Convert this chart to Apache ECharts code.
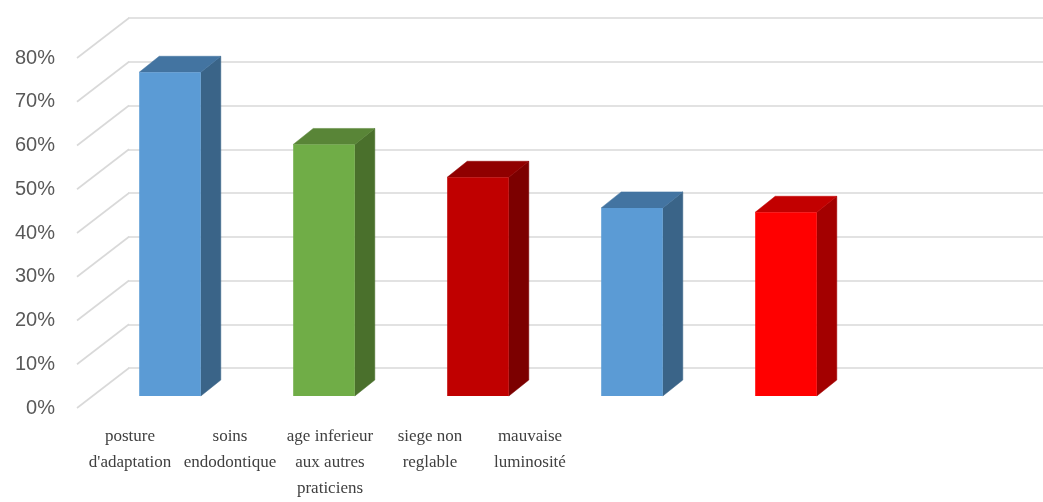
<!DOCTYPE html>
<html>
<head>
<meta charset="utf-8">
<script src="https://cdn.jsdelivr.net/npm/echarts@6/dist/echarts.min.js"></script>
<style>
html,body{margin:0;padding:0;background:#fff;}
#chart{width:1043px;height:502px;}
</style>
</head>
<body>
<div id="chart"></div>
<script>
// ---- data ----
const categories = ["posture\nd'adaptation", "soins\nendodontique", "age inferieur\naux autres\npraticiens", "siege non\nreglable", "mauvaise\nluminosité"];
const values = [0.74, 0.575, 0.50, 0.43, 0.42];
const yTicks = [0, 0.1, 0.2, 0.3, 0.4, 0.5, 0.6, 0.7, 0.8];

// ---- styles ----
const faceColors = [
  {front: '#5B9BD5', top: '#4374A1', side: '#3A6488'},
  {front: '#70AD47', top: '#598537', side: '#4A702C'},
  {front: '#C00000', top: '#900000', side: '#7C0000'},
  {front: '#5B9BD5', top: '#4374A1', side: '#3A6488'},
  {front: '#FF0000', top: '#C20000', side: '#A30000'}
];
const DEPTH_X = 20, DEPTH_Y = 16;     // bar depth projection
const DIAG_X = 52, DIAG_Y = 40;       // floor/side wall projection
const gridColor = '#D9D9D9';

const chart = echarts.init(document.getElementById('chart'));

const slotData = categories.map((c, i) => [i, values[i]]);

chart.setOption({
  backgroundColor: '#fff',
  animation: false,
  grid: [
    {left: 128, right: 0, top: 18, bottom: 134},   // back wall
    {left: 77, width: 60, top: 58, bottom: 94},    // side wall / y labels (front plane)
    {left: 93, right: 26, top: 46, bottom: 106},   // bars (bar front plane)
    {left: 80, width: 500, top: 300, bottom: 82}   // category labels
  ],
  xAxis: [
    {gridIndex: 0, type: 'value', show: false, min: 0, max: 1},
    {gridIndex: 1, type: 'value', show: false, min: 0, max: 1},
    {gridIndex: 2, type: 'category', show: false, data: categories.concat([''])},
    {gridIndex: 3, type: 'category', data: categories,
     axisLine: {show: false}, axisTick: {show: false},
     axisLabel: {interval: 0, margin: 5, fontFamily: 'Liberation Serif', fontSize: 17, lineHeight: 26, color: '#404040'}}
  ],
  yAxis: [
    {gridIndex: 0, type: 'value', min: 0, max: 0.8, interval: 0.1,
     axisLine: {show: false}, axisTick: {show: false}, axisLabel: {show: false},
     splitLine: {show: true, lineStyle: {color: gridColor, width: 1.6}}},
    {gridIndex: 1, type: 'value', min: 0, max: 0.8, interval: 0.1,
     axisLine: {show: false}, axisTick: {show: false}, splitLine: {show: false},
     axisLabel: {margin: 22, fontFamily: 'Liberation Sans', fontSize: 20, color: '#595959',
       formatter: v => Math.round(v * 100) + '%'}},
    {gridIndex: 2, type: 'value', min: 0, max: 0.8, show: false, splitLine: {show: false}},
    {gridIndex: 3, type: 'value', show: false, splitLine: {show: false}}
  ],
  series: [
    {
      type: 'custom', xAxisIndex: 1, yAxisIndex: 1, silent: true,
      data: yTicks.map(v => [0, v]),
      renderItem: function (params, api) {
        const p = api.coord([0, api.value(1)]);
        return {type: 'line', shape: {x1: p[0], y1: p[1], x2: p[0] + DIAG_X, y2: p[1] - DIAG_Y},
          style: {stroke: gridColor, lineWidth: 1.6}};
      }
    },
    {
      type: 'custom', xAxisIndex: 2, yAxisIndex: 2, silent: true,
      data: slotData,
      renderItem: function (params, api) {
        const i = api.value(0);
        const c = faceColors[i];
        const top = api.coord([i, api.value(1)]);
        const base = api.coord([i, 0]);
        const w = api.size([1, 0])[0] * 0.4;
        const l = top[0] - w / 2, r = top[0] + w / 2;
        const t = top[1], b = base[1];
        return {type: 'group', children: [
          {type: 'polygon', shape: {points: [[r, t], [r + DEPTH_X, t - DEPTH_Y], [r + DEPTH_X, b - DEPTH_Y], [r, b]]},
            style: {fill: c.side, stroke: c.side, lineWidth: 0.5}},
          {type: 'polygon', shape: {points: [[l, t], [l + DEPTH_X, t - DEPTH_Y], [r + DEPTH_X, t - DEPTH_Y], [r, t]]},
            style: {fill: c.top, stroke: c.top, lineWidth: 0.5}},
          {type: 'rect', shape: {x: l, y: t, width: w, height: b - t},
            style: {fill: c.front}}
        ]};
      }
    }
  ]
});
</script>
</body>
</html>
